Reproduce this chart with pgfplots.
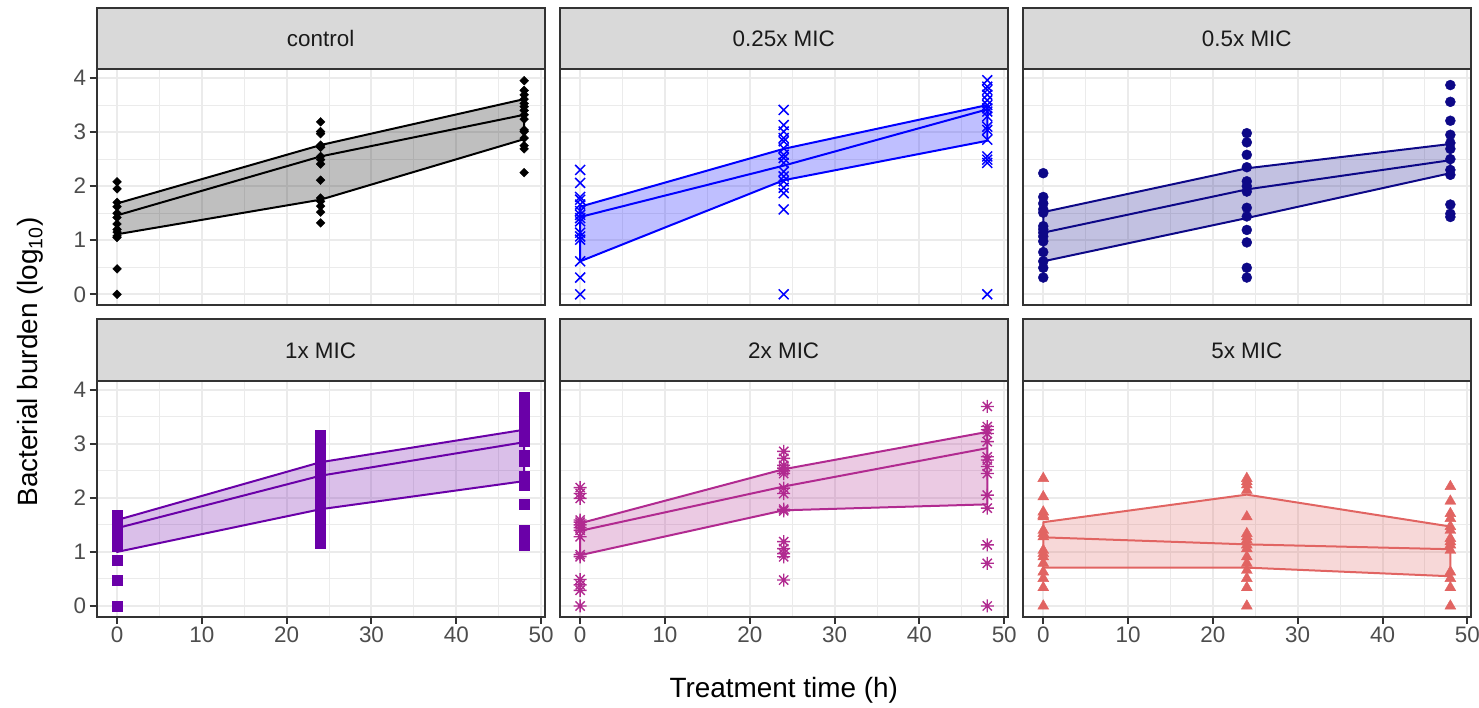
\documentclass[border=0pt]{standalone}
\usepackage{fontspec}
\setmainfont{Liberation Sans}
\usepackage{pgfplots}
\pgfplotsset{compat=1.18}
\definecolor{cctl}{HTML}{000000}
\definecolor{cq}{HTML}{0000FF}
\definecolor{ch}{HTML}{0D0887}
\definecolor{cone}{HTML}{6A00A8}
\definecolor{ctwo}{HTML}{B12A90}
\definecolor{cfive}{HTML}{E16462}
\definecolor{gridc}{HTML}{EBEBEB}
\definecolor{framec}{HTML}{333333}
\definecolor{tickc}{HTML}{4D4D4D}
\definecolor{stripc}{HTML}{D9D9D9}
\definecolor{stript}{HTML}{1A1A1A}

% ggplot shape 8: plus and cross together
\pgfdeclareplotmark{ast8}{%
  \pgfpathmoveto{\pgfqpoint{0pt}{\pgfplotmarksize}}\pgfpathlineto{\pgfqpoint{0pt}{-\pgfplotmarksize}}%
  \pgfpathmoveto{\pgfqpoint{\pgfplotmarksize}{0pt}}\pgfpathlineto{\pgfqpoint{-\pgfplotmarksize}{0pt}}%
  \pgfpathmoveto{\pgfqpoint{.7071\pgfplotmarksize}{.7071\pgfplotmarksize}}\pgfpathlineto{\pgfqpoint{-.7071\pgfplotmarksize}{-.7071\pgfplotmarksize}}%
  \pgfpathmoveto{\pgfqpoint{-.7071\pgfplotmarksize}{.7071\pgfplotmarksize}}\pgfpathlineto{\pgfqpoint{.7071\pgfplotmarksize}{-.7071\pgfplotmarksize}}%
  \pgfusepathqstroke}

\pgfplotsset{
  panel/.style={
    scale only axis, width=447.8bp, height=235.5bp, anchor=south west,
    xmin=-2.4, xmax=50.4, ymin=-0.198, ymax=4.158,
    xtick={0,10,...,50}, minor xtick={5,15,...,45},
    ytick={0,1,2,3,4}, minor ytick={0.5,1.5,2.5,3.5},
    grid=both,
    major grid style={gridc, line width=2bp},
    minor grid style={gridc, line width=1bp},
    axis line style={framec, line width=2bp},
    tick align=outside, major tick length=7bp, minor tick length=0pt,
    tick style={framec, line width=2bp},
    tick pos=left,
    tick label style={font=\fontsize{22.5}{27}\selectfont, text=tickc},
    /pgf/number format/assume math mode=true,
  },
  inner/.style={yticklabels={}, ytick style={draw=none}},
  toprow/.style={xticklabels={}, xtick style={draw=none}},
  band/.style={fill=#1, fill opacity=0.25, draw=#1, line width=2bp, line join=round},
  mid/.style={draw=#1, line width=2bp, line join=round},
  pts/.style={only marks, color=#1, mark options={fill=#1, draw=#1}},
}

\begin{document}
\begin{tikzpicture}
\path[use as bounding box] (0bp,0bp) rectangle (1479bp,708bp);

% control
\begin{axis}[panel, toprow, at={(96.7bp,403bp)}]
  \addplot[band=cctl] coordinates {(0,1.68)(24,2.76)(48,3.61)(48,2.87)(24,1.75)(0,1.11)} -- cycle;
  \addplot[mid=cctl] coordinates {(0,1.46)(24,2.55)(48,3.32)};
  \addplot[pts=cctl, mark=square*, mark size=3.1bp, mark options={rotate=45}] coordinates {
    (0,2.08)(0,1.95)(0,1.70)(0,1.62)(0,1.50)(0,1.42)(0,1.30)(0,1.20)(0,1.15)(0,1.08)(0,1.05)(0,0.47)(0,0.0)
    (24,3.19)(24,3.01)(24,2.97)(24,2.76)(24,2.72)(24,2.55)(24,2.49)(24,2.41)(24,2.11)(24,1.78)(24,1.72)(24,1.63)(24,1.52)(24,1.32)
    (48,3.95)(48,3.77)(48,3.69)(48,3.61)(48,3.53)(48,3.47)(48,3.40)(48,3.32)(48,3.24)(48,3.04)(48,3.01)(48,2.89)(48,2.75)(48,2.69)(48,2.25)};
\end{axis}

% 0.25x MIC
\begin{axis}[panel, toprow, inner, at={(559.8bp,403bp)}]
  \addplot[band=cq] coordinates {(0,1.62)(24,2.69)(48,3.50)(48,2.84)(24,2.11)(0,0.61)} -- cycle;
  \addplot[mid=cq] coordinates {(0,1.43)(24,2.38)(48,3.42)};
  \addplot[pts=cq, mark=x, mark size=7bp, mark options={line width=1.5bp}] coordinates {
    (0,2.30)(0,2.06)(0,1.80)(0,1.75)(0,1.66)(0,1.54)(0,1.47)(0,1.41)(0,1.35)(0,1.14)(0,1.07)(0,1.01)(0,0.61)(0,0.31)(0,0)
    (24,3.41)(24,3.13)(24,3.01)(24,2.89)(24,2.83)(24,2.70)(24,2.58)(24,2.52)(24,2.43)(24,2.27)(24,2.18)(24,2.09)(24,1.97)(24,1.87)(24,1.57)(24,0)
    (48,3.96)(48,3.84)(48,3.78)(48,3.69)(48,3.59)(48,3.50)(48,3.44)(48,3.38)(48,3.29)(48,3.10)(48,3.04)(48,2.86)(48,2.55)(48,2.49)(48,2.43)(48,0)};
\end{axis}

% 0.5x MIC
\begin{axis}[panel, toprow, inner, at={(1022.9bp,403bp)}]
  \addplot[band=ch] coordinates {(0,1.52)(24,2.33)(48,2.78)(48,2.24)(24,1.41)(0,0.61)} -- cycle;
  \addplot[mid=ch] coordinates {(0,1.14)(24,1.94)(48,2.48)};
  \addplot[pts=ch, mark=*, mark size=5bp] coordinates {
    (0,2.24)(0,1.80)(0,1.68)(0,1.57)(0,1.51)(0,1.26)(0,1.20)(0,1.14)(0,1.07)(0,0.98)(0,0.78)(0,0.61)(0,0.49)(0,0.31)
    (24,2.98)(24,2.81)(24,2.58)(24,2.35)(24,2.09)(24,2.00)(24,1.90)(24,1.60)(24,1.44)(24,1.19)(24,0.96)(24,0.49)(24,0.31)
    (48,3.87)(48,3.56)(48,3.21)(48,2.95)(48,2.80)(48,2.69)(48,2.50)(48,2.30)(48,2.21)(48,1.66)(48,1.49)(48,1.43)};
\end{axis}

% 1x MIC
\begin{axis}[panel, at={(96.7bp,91.3bp)}]
  \addplot[band=cone] coordinates {(0,1.59)(24,2.66)(48,3.26)(48,2.31)(24,1.79)(0,1.00)} -- cycle;
  \addplot[mid=cone] coordinates {(0,1.44)(24,2.41)(48,3.03)};
  \addplot[pts=cone, mark=square*, mark size=5bp] coordinates {
    (0,1.68)(0,1.60)(0,1.52)(0,1.45)(0,1.38)(0,1.30)(0,1.22)(0,1.15)(0,1.10)(0,0.85)(0,0.48)(0,0)
    (24,3.16)(24,3.08)(24,2.98)(24,2.78)(24,2.70)(24,2.62)(24,2.55)(24,2.48)(24,2.40)(24,2.32)(24,2.25)(24,2.18)
    (24,2.10)(24,2.02)(24,1.95)(24,1.88)(24,1.80)(24,1.72)(24,1.65)(24,1.50)(24,1.42)(24,1.30)(24,1.22)(24,1.16)
    (48,3.86)(48,3.78)(48,3.70)(48,3.62)(48,3.52)(48,3.32)(48,3.24)(48,3.16)(48,3.08)(48,3.04)(48,2.79)
    (48,2.72)(48,2.67)(48,2.40)(48,2.32)(48,2.24)(48,1.89)(48,1.40)(48,1.32)(48,1.24)(48,1.16)(48,1.13)};
\end{axis}

% 2x MIC
\begin{axis}[panel, inner, at={(559.8bp,91.3bp)}]
  \addplot[band=ctwo] coordinates {(0,1.53)(24,2.53)(48,3.22)(48,1.88)(24,1.77)(0,0.94)} -- cycle;
  \addplot[mid=ctwo] coordinates {(0,1.39)(24,2.21)(48,2.92)};
  \addplot[pts=ctwo, mark=ast8, mark size=6.5bp, mark options={line width=1.4bp}] coordinates {
    (0,2.19)(0,2.08)(0,1.99)(0,1.59)(0,1.55)(0,1.50)(0,1.45)(0,1.40)(0,1.28)(0,0.95)(0,0.91)(0,0.49)(0,0.39)(0,0.29)(0,0)
    (24,2.86)(24,2.73)(24,2.60)(24,2.55)(24,2.50)(24,2.45)(24,2.18)(24,2.08)(24,1.79)(24,1.76)(24,1.19)(24,1.06)(24,0.97)(24,0.91)(24,0.48)
    (48,3.69)(48,3.32)(48,3.26)(48,3.19)(48,3.04)(48,2.76)(48,2.70)(48,2.58)(48,2.45)(48,2.05)(48,1.81)(48,1.13)(48,0.79)(48,0)};
\end{axis}

% 5x MIC
\begin{axis}[panel, inner, at={(1022.9bp,91.3bp)}]
  \addplot[band=cfive] coordinates {(0,1.55)(24,2.06)(48,1.47)(48,0.55)(24,0.71)(0,0.71)} -- cycle;
  \addplot[mid=cfive] coordinates {(0,1.27)(24,1.14)(48,1.05)};
  \addplot[pts=cfive, mark=triangle*, mark size=6.3bp] coordinates {
    (0,2.36)(0,2.02)(0,1.74)(0,1.68)(0,1.65)(0,1.40)(0,1.34)(0,1.28)(0,1.03)(0,0.97)(0,0.91)(0,0.79)(0,0.63)(0,0.51)(0,0.34)(0,0)
    (24,2.36)(24,2.30)(24,2.24)(24,2.14)(24,1.65)(24,1.34)(24,1.28)(24,1.22)(24,1.13)(24,1.06)(24,0.91)(24,0.79)(24,0.66)(24,0.51)(24,0.34)(24,0)
    (48,2.21)(48,1.94)(48,1.71)(48,1.62)(48,1.47)(48,1.40)(48,1.25)(48,1.19)(48,1.13)(48,1.03)(48,0.63)(48,0.51)(48,0.34)(48,0)};
\end{axis}

% facet strips
\foreach \sx/\sy/\st in {96.7/638.5/control, 559.8/638.5/0.25x MIC, 1022.9/638.5/0.5x MIC,
                         96.7/326.8/1x MIC, 559.8/326.8/2x MIC, 1022.9/326.8/5x MIC} {
  \draw[fill=stripc, draw=framec, line width=2bp] (\sx bp,\sy bp) rectangle ++(447.8bp,61.8bp);
  \path (\sx bp,\sy bp) ++(223.9bp,30.9bp) node[text=stript, font=\fontsize{22.5}{27}\selectfont] {\st};
}

\node[font=\fontsize{28}{34}\selectfont] at (783.7bp,18bp) {Treatment time (h)};
\node[rotate=90, font=\fontsize{28}{34}\selectfont] at (30bp,346bp) {Bacterial burden (log\textsubscript{10})};
\end{tikzpicture}
\end{document}
